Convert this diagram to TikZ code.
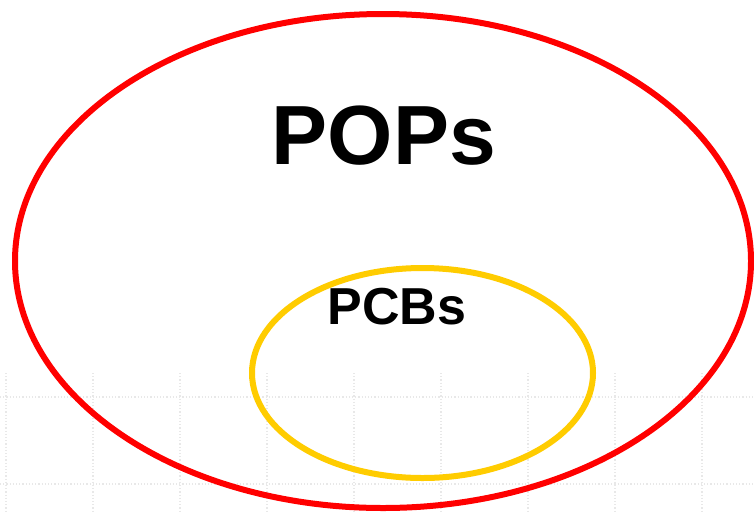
\documentclass[tikz,border=0pt]{standalone}
\usepackage{fontspec}
\setmainfont{Liberation Sans}
\definecolor{ringgold}{HTML}{FFCC00}
\begin{document}
\begin{tikzpicture}[x=1pt,y=-1pt,
  gridline/.style={draw=black!9, line width=1.2pt, dotted},
  outerring/.style={draw=red, line width=6pt},
  innerring/.style={draw=ringgold, line width=6pt},
  biglabel/.style={font=\bfseries\fontsize{84}{84}\selectfont, inner sep=0pt},
  smalllabel/.style={font=\bfseries\fontsize{52}{52}\selectfont, inner sep=0pt}]
\fill[white] (0,0) rectangle (754,512);
\useasboundingbox (0,0) rectangle (754,512);
\clip (0,0) rectangle (754,512);
% faint background grid
\foreach \gx in {6,93,180,267,354,441,528,615,702}
  \draw[gridline] (\gx,373) -- (\gx,512);
\foreach \gy in {397,484}
  \draw[gridline] (0,\gy) -- (754,\gy);
% rings
\draw[outerring] (383,261) ellipse [x radius=368, y radius=247];
\draw[innerring] (422.5,373) ellipse [x radius=170.5, y radius=105];
% labels
\node[biglabel, anchor=base] (pops) at (384,164) {POPs};
\node[smalllabel, anchor=base] (pcbs) at (397,324) {PCBs};
\end{tikzpicture}
\end{document}
